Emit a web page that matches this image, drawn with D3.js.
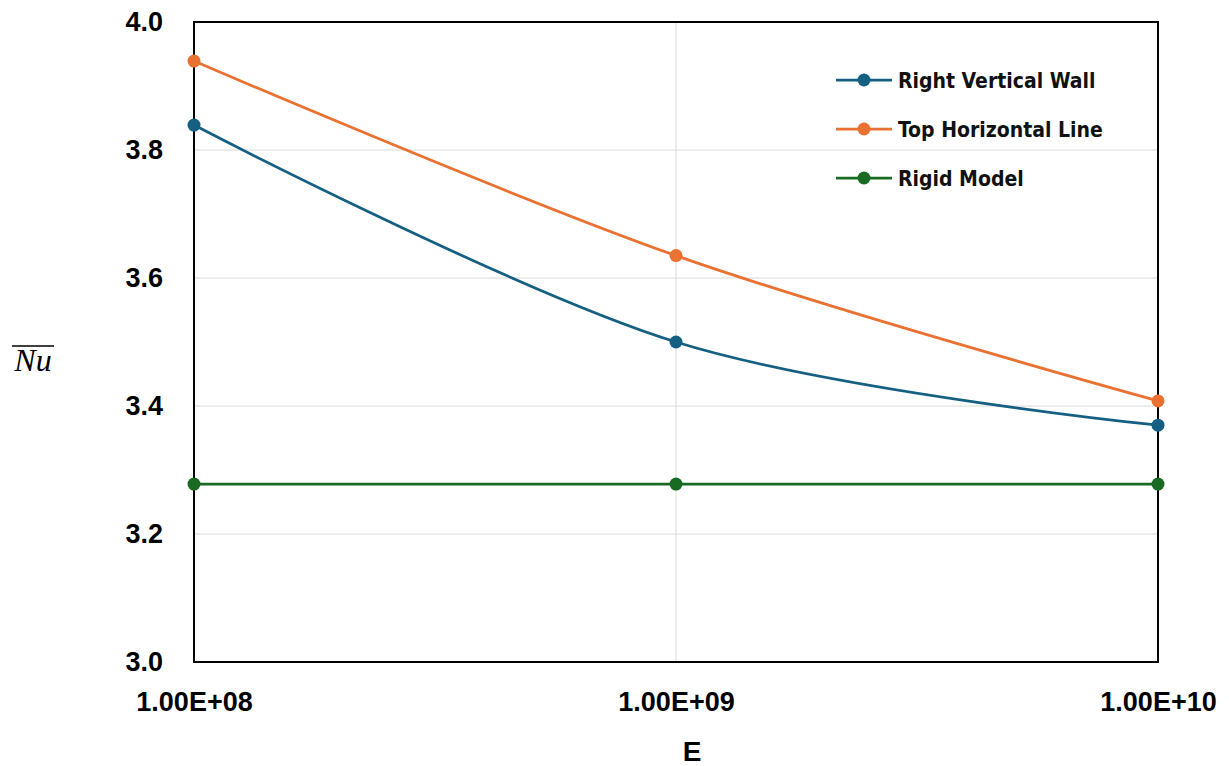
<!DOCTYPE html>
<html><head><meta charset="utf-8">
<script src="https://cdn.jsdelivr.net/npm/d3@7"></script>
<style>body{margin:0;background:#fff;} svg{display:block;}</style>
</head><body>
<svg id="chart" width="1229" height="766"></svg>
<script>
const xValues = [1e8, 1e9, 1e10];
const xTickLabels = ["1.00E+08", "1.00E+09", "1.00E+10"];
const yTicks = [3.0, 3.2, 3.4, 3.6, 3.8, 4.0];
const seriesNames = ["Right Vertical Wall", "Top Horizontal Line", "Rigid Model"];
const rightVerticalWall = [3.839, 3.500, 3.370];
const topHorizontalLine = [3.939, 3.635, 3.408];
const rigidModel = [3.278, 3.278, 3.278];
const colors = ["#156082", "#E97132", "#196B24"];

const svg = d3.select("#chart");
const L = 194, R = 1158, T = 22, B = 662;
const x = d3.scaleLog().domain([1e8, 1e10]).range([L, R]);
const y = d3.scaleLinear().domain([3.0, 4.0]).range([B, T]);

// gridlines
svg.append("g").selectAll("line.h").data(yTicks).join("line")
  .attr("x1", L).attr("x2", R).attr("y1", d => y(d)).attr("y2", d => y(d))
  .attr("stroke", "#d9d9d9").attr("stroke-width", 1);
svg.append("g").selectAll("line.v").data(xValues).join("line")
  .attr("x1", d => x(d)).attr("x2", d => x(d)).attr("y1", T).attr("y2", B)
  .attr("stroke", "#d9d9d9").attr("stroke-width", 1);

// frame
svg.append("rect").attr("x", L).attr("y", T).attr("width", R - L).attr("height", B - T)
  .attr("fill", "none").attr("stroke", "#000").attr("stroke-width", 2);

// axes ticks labels
const yAxis = d3.axisLeft(y).tickValues(yTicks).tickFormat(d3.format(".1f")).tickSize(0).tickPadding(31);
const gy = svg.append("g").attr("transform", `translate(${L},0)`).call(yAxis);
gy.select(".domain").remove();
gy.selectAll("text").attr("font-family", "Liberation Sans, Arial, sans-serif")
  .attr("font-weight", "bold").attr("font-size", 27).attr("fill", "#000");

const xAxis = d3.axisBottom(x).tickValues(xValues).tickFormat((d, i) => xTickLabels[i]).tickSize(0).tickPadding(30);
const gx = svg.append("g").attr("transform", `translate(0,${B})`).call(xAxis);
gx.select(".domain").remove();
gx.selectAll("text").attr("font-family", "Liberation Sans, Arial, sans-serif")
  .attr("font-weight", "bold").attr("font-size", 27).attr("fill", "#000");

// axis titles
svg.append("text").attr("x", 692).attr("y", 761).attr("text-anchor", "middle")
  .attr("font-family", "Liberation Sans, Arial, sans-serif").attr("font-weight", "bold")
  .attr("font-size", 28).text("E");
svg.append("text").attr("x", 33).attr("y", 371).attr("text-anchor", "middle")
  .attr("font-family", "Liberation Serif, 'DejaVu Serif', serif").attr("font-style", "italic")
  .attr("font-size", 32).text("Nu");
svg.append("line").attr("x1", 12).attr("x2", 54).attr("y1", 346).attr("y2", 346)
  .attr("stroke", "#000").attr("stroke-width", 1.3);

// series
const allSeries = [rightVerticalWall, topHorizontalLine, rigidModel];
const line = d3.line().x((d, i) => x(xValues[i])).y(d => y(d)).curve(d3.curveCardinal.tension(0));
allSeries.forEach((s, k) => {
  svg.append("path").attr("d", line(s)).attr("fill", "none")
    .attr("stroke", colors[k]).attr("stroke-width", 2.75);
  svg.append("g").selectAll("circle").data(s).join("circle")
    .attr("cx", (d, i) => x(xValues[i])).attr("cy", d => y(d)).attr("r", 6.5)
    .attr("fill", colors[k]);
});

// legend
const lg = svg.append("g");
seriesNames.forEach((name, k) => {
  const ly = 80 + k * 49;
  lg.append("line").attr("x1", 836).attr("x2", 892).attr("y1", ly).attr("y2", ly)
    .attr("stroke", colors[k]).attr("stroke-width", 2.75);
  lg.append("circle").attr("cx", 864).attr("cy", ly).attr("r", 6.5).attr("fill", colors[k]);
  lg.append("text").attr("x", 898).attr("y", ly + 7.5)
    .attr("font-family", "'DejaVu Sans Condensed', 'Liberation Sans Narrow', 'Liberation Sans', sans-serif")
    .attr("font-weight", "bold").attr("font-size", 21).attr("fill", "#111").text(name);
});
</script>
</body></html>
